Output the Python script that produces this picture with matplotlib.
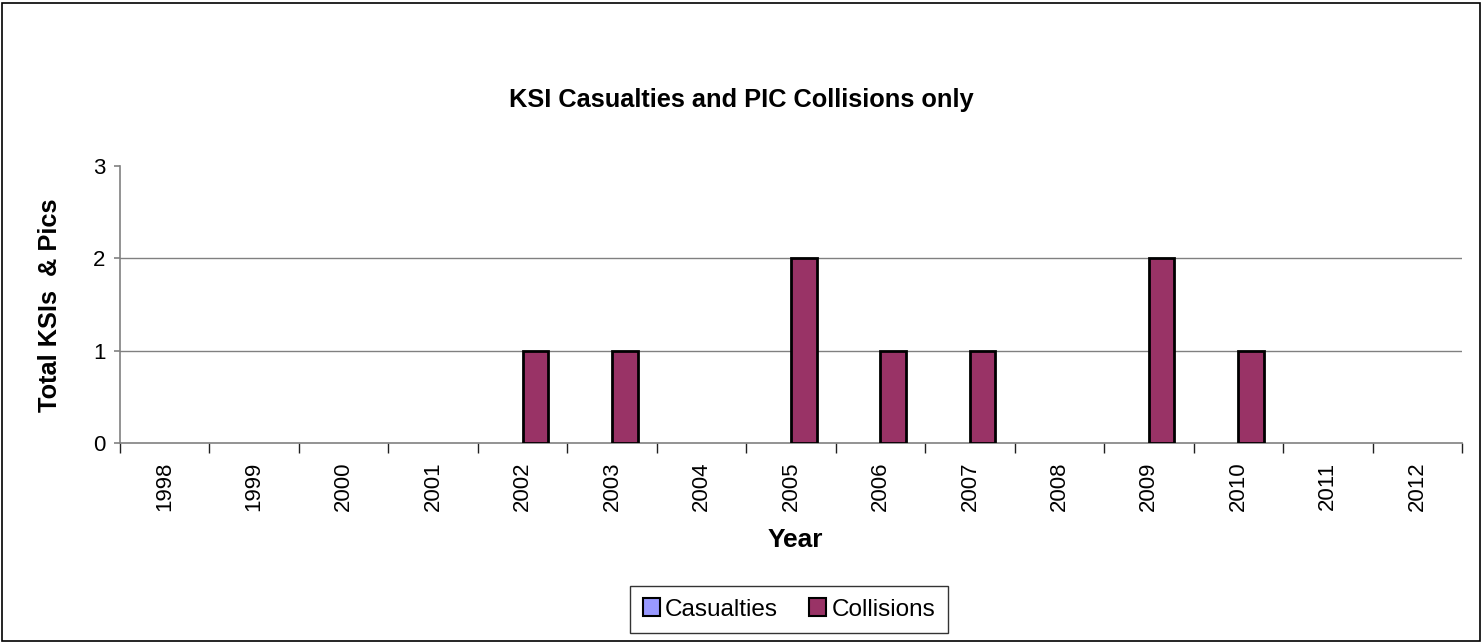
import numpy as np
import matplotlib.pyplot as plt
from matplotlib.patches import Rectangle, Patch

plt.rcParams['font.family'] = ['Liberation Sans', 'DejaVu Sans']

years = ["1998", "1999", "2000", "2001", "2002", "2003", "2004", "2005",
         "2006", "2007", "2008", "2009", "2010", "2011", "2012"]
casualties = [0, 0, 0, 0, 0, 0, 0, 0, 0, 0, 0, 0, 0, 0, 0]
collisions = [0, 0, 0, 0, 1, 1, 0, 2, 1, 1, 0, 2, 1, 0, 0]

W, H = 1483, 643
fig = plt.figure(figsize=(W / 100, H / 100), dpi=100)
fig.patches.append(Rectangle((2 / W, 2 / H), 1 - 5 / W, 1 - 5 / H, transform=fig.transFigure,
                             fill=False, edgecolor='black', linewidth=1.2))

ax = fig.add_axes([120 / W, 1 - 443 / H, (1462 - 120) / W, (443 - 166) / H])

x = np.arange(len(years))
w = 1 / 3.5
# zero-height bars get no outline, like the original
ec_cas = ['black' if v > 0 else 'none' for v in casualties]
ec_col = ['black' if v > 0 else 'none' for v in collisions]
ax.bar(x - w / 2, casualties, width=w, color='#9999ff', edgecolor=ec_cas, linewidth=2.0, zorder=3)
ax.bar(x + w / 2, collisions, width=w, color='#993366', edgecolor=ec_col, linewidth=2.0, zorder=3)

ax.set_xlim(-0.5, len(years) - 0.5)
ax.set_ylim(0, 3)
ax.set_yticks([0, 1, 2, 3])
for v in [1, 2]:
    ax.axhline(v, color='#808080', linewidth=1.0, zorder=1)

for s in ['top', 'right']:
    ax.spines[s].set_visible(False)
for s in ['left', 'bottom']:
    ax.spines[s].set_color('#808080')
    ax.spines[s].set_linewidth(1.2)

ax.set_xticks(x)
ax.set_xticklabels(years, rotation=90, fontsize=16)
ax.tick_params(axis='x', length=0, pad=13.5)
ax.set_xticks(np.arange(len(years) + 1) - 0.5, minor=True)
ax.tick_params(axis='x', which='minor', length=7, color='#202020', width=1)
ax.tick_params(axis='y', labelsize=16, length=4.5, color='#808080', width=1.2, pad=6)

fig.text(795 / W, 1 - 540 / H, 'Year', ha='center', va='center', fontsize=19, fontweight='bold')
fig.text(50 / W, 1 - 305 / H, 'Total KSIs  & Pics', ha='center', va='center', rotation=90,
         fontsize=18.3, fontweight='bold')
fig.text(741 / W, 1 - 100 / H, 'KSI Casualties and PIC Collisions only', ha='center', va='center',
         fontsize=18.3, fontweight='bold')

handles = [Patch(facecolor='#9999ff', edgecolor='black', linewidth=1.5, label='Casualties'),
           Patch(facecolor='#993366', edgecolor='black', linewidth=1.5, label='Collisions')]
leg = fig.legend(handles=handles, loc='center', bbox_to_anchor=(789 / W, 1 - 609.5 / H), ncol=2,
                 fontsize=17.5, frameon=True, fancybox=False, edgecolor='black', handlelength=0.7,
                 handleheight=0.7, handletextpad=0.2, columnspacing=1.3, borderpad=0.53,
                 borderaxespad=0)
leg.get_frame().set_linewidth(1.0)

fig.savefig('out.png', dpi=100)
